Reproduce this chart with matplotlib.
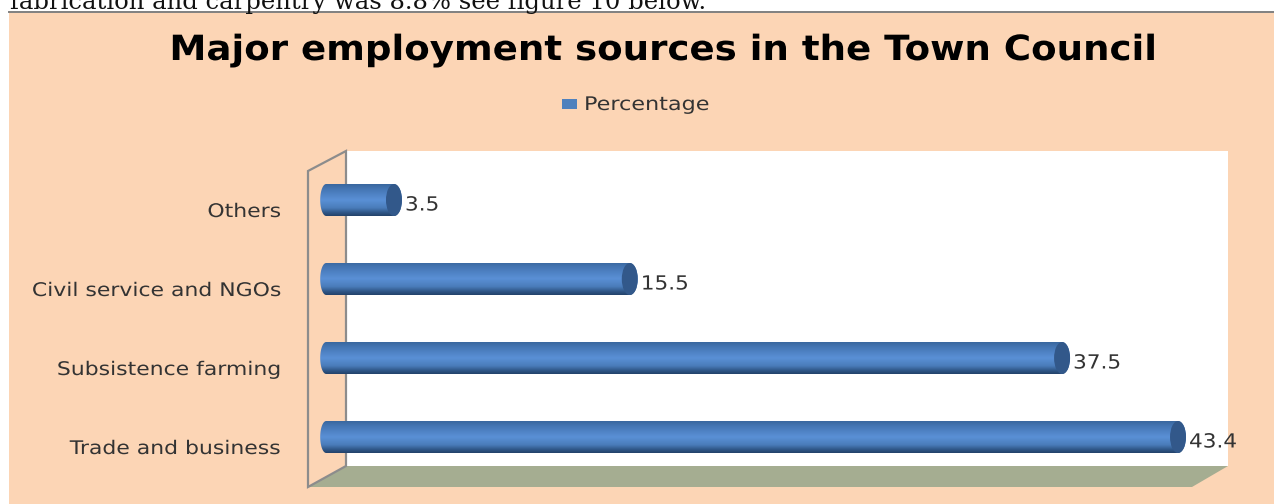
import numpy as np
import matplotlib
matplotlib.use('Agg')
import matplotlib.pyplot as plt
from matplotlib.colors import LinearSegmentedColormap
from matplotlib.patches import Ellipse, PathPatch, Polygon, Rectangle
from matplotlib.path import Path
from matplotlib.patheffects import AbstractPathEffect
from matplotlib.transforms import Affine2D

categories = ['Trade and business', 'Subsistence farming', 'Civil service and NGOs', 'Others']
percentages = [43.4, 37.5, 15.5, 3.5]
value_labels = ['43.4', '37.5', '15.5', '3.5']

W, H = 1274, 504
PEACH = '#fcd5b5'
BLUE = '#4f81bd'

# horizontal scale of the value axis
PX_PER_UNIT = 19.65
X_ZERO = 333.2
ROW_PX = 79
Y_ZERO = 437
BAR_PX = 32


# widens glyphs sideways around a fixed pixel column
class Stretch(AbstractPathEffect):
    def __init__(self, factor, anchor):
        super().__init__()
        self.factor = factor
        self.anchor = anchor

    def draw_path(self, renderer, gc, tpath, affine, rgbFace=None):
        wide = Affine2D().translate(-self.anchor, 0).scale(self.factor, 1).translate(self.anchor, 0)
        renderer.draw_path(gc, tpath, affine + wide, rgbFace)


fig = plt.figure(figsize=(W / 100, H / 100), dpi=100, facecolor='white')

# page and chart frame, in pixels from the top left
bg = fig.add_axes([0, 0, 1, 1])
bg.set_xlim(0, W)
bg.set_ylim(H, 0)
bg.axis('off')

bg.add_patch(Rectangle((9, 12), W - 9, H - 12, fc=PEACH, ec='none'))
bg.plot([9, W], [12, 12], color='#808080', lw=1.4)
bg.text(10, 9, 'fabrication and carpentry was 8.8% see figure 10 below.', family='DejaVu Serif',
        fontsize=17.5, color='#111111', va='baseline')

bg.add_patch(Rectangle((346, 151), 882, 315, fc='white', ec='none'))
bg.add_patch(Polygon([(308, 487), (346, 466), (1228, 466), (1192, 487)], fc='#a5ad91', ec='none'))
bg.add_patch(Polygon([(308, 171), (346, 151), (346, 466), (308, 487)], fc=PEACH, ec='#8c8c8c', lw=1.6))

bg.text(663.5, 50, 'Major employment sources in the Town Council', ha='center', va='center',
        fontsize=25, fontweight='bold', color='black', path_effects=[Stretch(1.07, 663.5)])
bg.add_patch(Rectangle((562, 99), 15, 10, fc=BLUE, ec='none'))
bg.text(584, 104.5, 'Percentage', ha='left', va='center', fontsize=13.5, color='#333333',
        path_effects=[Stretch(1.19, 584)])

# bars, drawn on a value / category scale
ax = fig.add_axes([0, 0, 1, 1])
ax.patch.set_alpha(0)
ax.axis('off')
xlim = (-X_ZERO / PX_PER_UNIT, (W - X_ZERO) / PX_PER_UNIT)
ylim = ((Y_ZERO - H) / ROW_PX, Y_ZERO / ROW_PX)

cylinder = LinearSegmentedColormap.from_list('cylinder', [
    (0.0, '#3a689f'), (0.15, '#4576b4'), (0.5, '#5a90d6'), (0.75, '#4a7cba'),
    (0.9, '#2f5686'), (1.0, '#23436b')])
shade = np.linspace(0, 1, 64).reshape(-1, 1)

half_h = BAR_PX / ROW_PX / 2
left = -13 / PX_PER_UNIT
rx_left = 6 / PX_PER_UNIT
rx_right = 8 / PX_PER_UNIT
theta = np.linspace(-np.pi / 2, np.pi / 2, 40)

for i, value in enumerate(percentages):
    right_x = value - rx_right + rx_right * np.cos(theta)
    right_y = i + half_h * np.sin(theta)
    left_x = left + rx_left - rx_left * np.cos(theta[::-1])
    left_y = i + half_h * np.sin(theta[::-1])
    verts = np.vstack([np.c_[right_x, right_y], np.c_[left_x, left_y], [right_x[0], right_y[0]]])
    outline = PathPatch(Path(verts, closed=True), fc='none', ec='none', transform=ax.transData)
    ax.add_patch(outline)

    im = ax.imshow(shade, cmap=cylinder, aspect='auto', origin='upper', interpolation='bilinear',
                   extent=(left, value, i - half_h, i + half_h))
    im.set_clip_path(outline)

    ax.add_patch(Ellipse((value - rx_right, i), 2 * rx_right, 2 * half_h, fc='#32588a', ec='none'))

    value_px = X_ZERO + value * PX_PER_UNIT + 3
    ax.annotate(value_labels[i], (value, i), xytext=(3, -5), textcoords='offset pixels',
                ha='left', va='center', fontsize=14, color='#333333',
                path_effects=[Stretch(1.11, value_px)])
    ax.annotate(categories[i], (left, i), xytext=(-39, -11.5), textcoords='offset pixels',
                ha='right', va='center', fontsize=13.5, color='#333333',
                path_effects=[Stretch(1.17, 281)])

ax.set_xlim(xlim)
ax.set_ylim(ylim)

fig.savefig('out.png', dpi=100, facecolor='white')
